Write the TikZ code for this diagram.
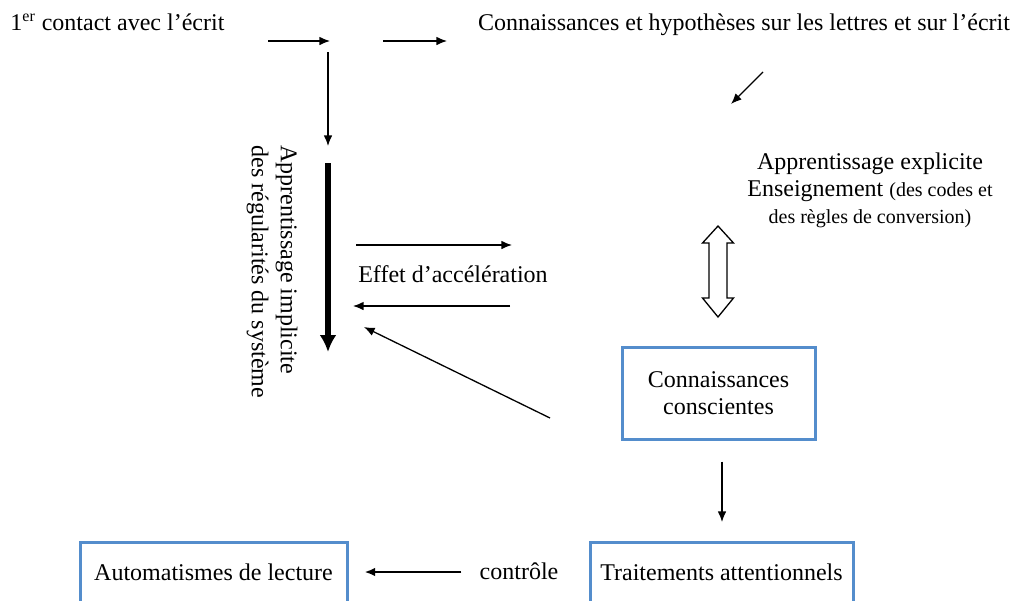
\documentclass[tikz,border=0pt]{standalone}
\usepackage{fontspec}
\setmainfont{Liberation Serif}
\usetikzlibrary{calc,positioning,arrows.meta}

\definecolor{boxblue}{RGB}{84,141,204}
\tikzset{
  bluebox/.style={draw=boxblue, line width=1.5pt, align=center, inner sep=0pt},
  thinarrow/.style={-{Latex[length=5.3pt,width=4.3pt]}, line width=0.65pt},
  thickarrow/.style={-{Latex[length=8.5pt,width=8.5pt]}, line width=2.6pt},
  hollowarrow/.style={draw, fill=white, line width=0.65pt, line join=miter},
  label/.style={inner sep=0pt},
}

\begin{document}
\begin{tikzpicture}[x=0.5pt, y=-0.5pt, font=\fontsize{12}{13.5}\selectfont]
    \useasboundingbox (0,0) rectangle (1010,600);
    \clip (0,0) rectangle (1010,600);

    % top line
    \node [label, anchor=base west] (contact) at (10,30) {1\textsuperscript{er} contact avec l’écrit};
    \node [label, anchor=base] (hypo) at (744,30) {Connaissances et hypothèses sur les lettres et sur l’écrit};

    % left column
    \node [label, rotate=-90, anchor=north west, align=left, font=\fontsize{12}{14.5}\selectfont] (implicite) at (298,145)
        {Apprentissage implicite\\des régularités du système};
    \node [label, anchor=base] (effet) at (453,282) {Effet d’accélération};

    % right column
    \node [label, align=center] (explicite) at (870,190)
        {Apprentissage explicite\\Enseignement {\fontsize{10}{13.5}\selectfont (des codes et}\\{\fontsize{10}{13.5}\selectfont des règles de conversion)}};
    \node [bluebox, minimum width=96.5pt, minimum height=46pt] (conscientes) at (718.5,393)
        {Connaissances\\conscientes};

    % bottom line
    \node [bluebox, anchor=north, minimum width=131.5pt, text height=8.5pt, text depth=14pt, inner ysep=10.5pt] (traitements) at (721.5,541)
        {Traitements attentionnels};
    \node [bluebox, anchor=north, minimum width=133.5pt, text height=8.5pt, text depth=14pt, inner ysep=10.5pt] (automatismes) at (213.5,541)
        {Automatismes de lecture};
    \node [label, anchor=base] (controle) at (519,579) {contrôle};

    % arrow ends
    \coordinate (c1a) at (268,41);
    \coordinate (c1b) at (330,41);
    \coordinate (c2a) at (383,41);
    \coordinate (c2b) at (447,41);
    \coordinate (v1a) at (328,52);
    \coordinate (v1b) at (328,146);
    \coordinate (v2a) at (328,163);
    \coordinate (v2b) at (328,352);
    \coordinate (e1a) at (356,245);
    \coordinate (e1b) at (512,245);
    \coordinate (e2a) at (510,306);
    \coordinate (e2b) at (353,306);
    \coordinate (d1a) at (550,418);
    \coordinate (d1b) at (364,327);
    \coordinate (d2a) at (763,72);
    \coordinate (d2b) at (731,104);
    \coordinate (dbl) at (718,271.5);

    \draw [thinarrow] (c1a) -- (c1b);
    \draw [thinarrow] (c2a) -- (c2b);
    \draw [thinarrow] (v1a) -- (v1b);
    \draw [thickarrow] (v2a) -- (v2b);
    \draw [thinarrow] (e1a) -- (e1b);
    \draw [thinarrow] (e2a) -- (e2b);
    \draw [thinarrow] (d1a) -- (d1b);
    \draw [thinarrow] (d2a) -- (d2b);
    \draw [thinarrow] ([yshift=-10.5pt]conscientes.south -| 722,0) -- ([yshift=9.5pt]traitements.north -| 722,0);
    \draw [thinarrow, line width=1pt] ([xshift=-9pt]controle.west |- 0,572) -- ([xshift=8pt]automatismes.east |- 0,572);

    % hollow double arrow
    \draw [hollowarrow, shift={(dbl)}]
        (0,-45.5) -- (15.5,-28.5) -- (9,-28.5) -- (9,26.5) -- (15.5,26.5) -- (0,45.5)
        -- (-15.5,26.5) -- (-9,26.5) -- (-9,-28.5) -- (-15.5,-28.5) -- cycle;
\end{tikzpicture}
\end{document}
